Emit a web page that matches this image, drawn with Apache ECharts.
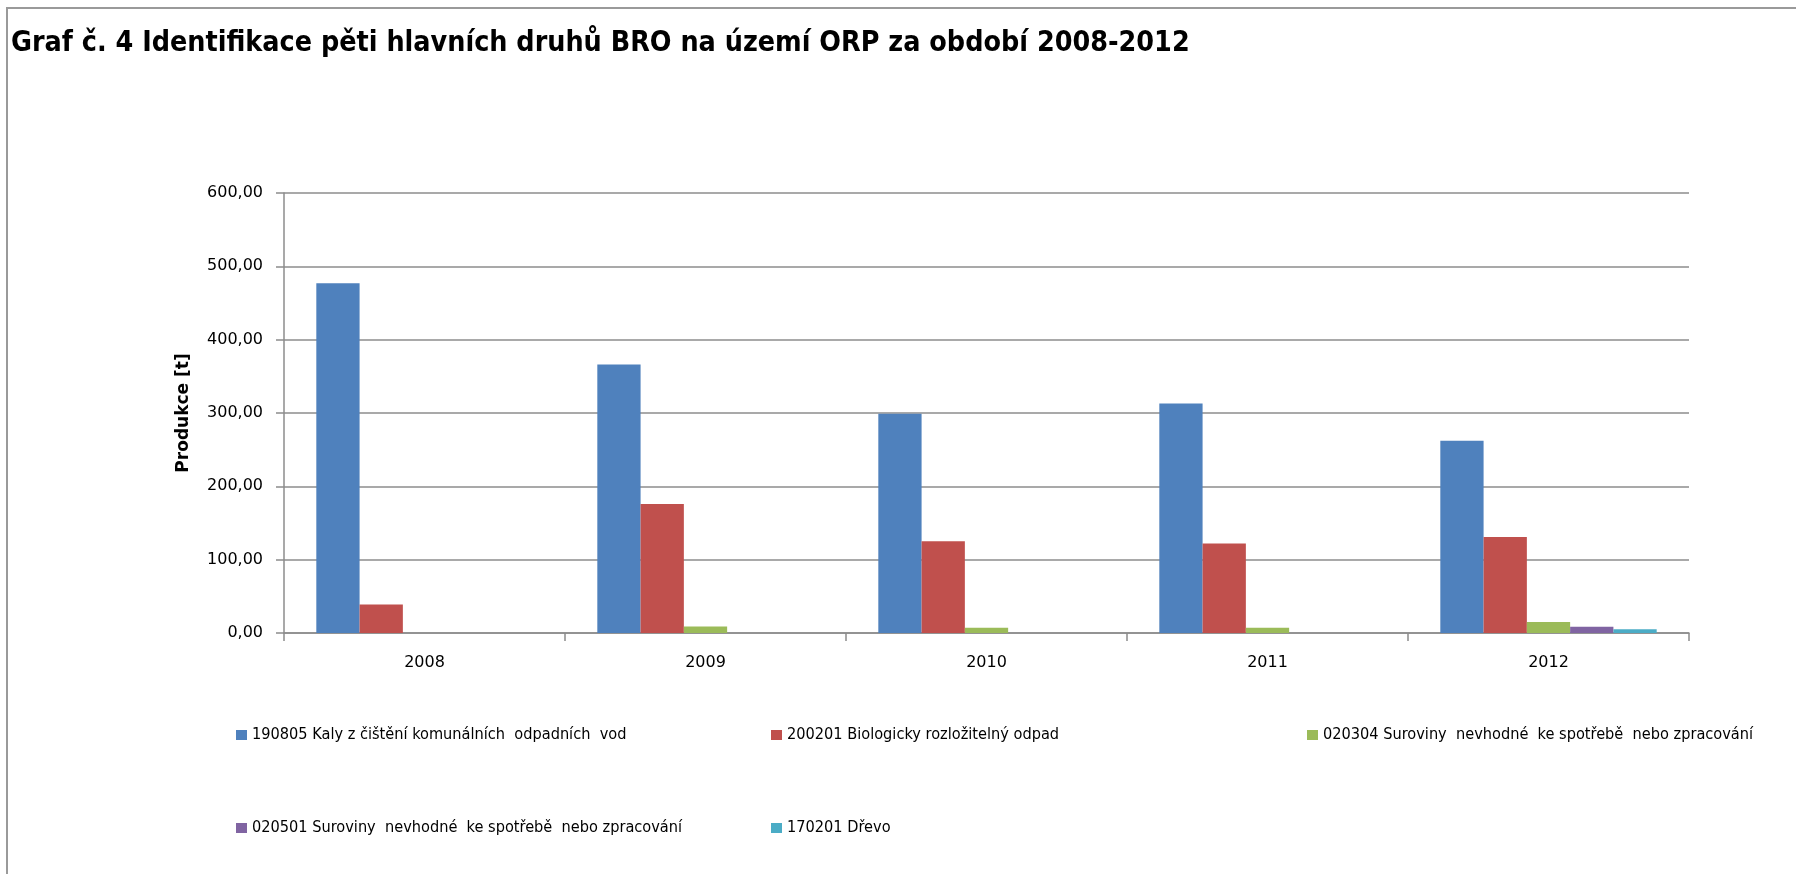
<!DOCTYPE html>
<html>
<head>
<meta charset="utf-8">
<script src="https://cdn.jsdelivr.net/npm/echarts@6/dist/echarts.min.js"></script>
<style>
html,body{margin:0;padding:0;background:#fff;}
#chart{width:1796px;height:874px;}
</style>
</head>
<body>
<div id="chart"></div>
<script>
const titleText = 'Graf č. 4 Identifikace pěti hlavních druhů BRO na území ORP za období 2008-2012';
const yAxisName = 'Produkce [t]';
const years = ['2008', '2009', '2010', '2011', '2012'];
const seriesNames = [
  '190805 Kaly z čištění komunálních  odpadních  vod',
  '200201 Biologicky rozložitelný odpad',
  '020304 Suroviny  nevhodné  ke spotřebě  nebo zpracování',
  '020501 Suroviny  nevhodné  ke spotřebě  nebo zpracování',
  '170201 Dřevo'
];
const kaly = [477, 366, 299, 313, 262];
const bio = [39, 176, 125, 122, 131];
const sur020304 = [0, 9, 7, 7, 15];
const sur020501 = [0, 0, 0, 0, 8.5];
const drevo = [0, 0, 0, 0, 5];
const colors = ['#4F81BD', '#C0504D', '#9BBB59', '#8064A2', '#4BACC6'];

const allData = [kaly, bio, sur020304, sur020501, drevo];

const legendPos = [
  {left: 236, top: 725},
  {left: 771, top: 725},
  {left: 1307, top: 725},
  {left: 236, top: 818},
  {left: 771, top: 818}
];

const legendFont = '"Liberation Sans Narrow", "DejaVu Sans Condensed", sans-serif';
const axisFont = '"DejaVu Sans", Verdana, sans-serif';

const chart = echarts.init(document.getElementById('chart'), null, {renderer: 'canvas'});
const option = {
  backgroundColor: '#ffffff',
  animation: false,
  title: {
    text: titleText,
    left: 11,
    top: 28,
    padding: 0,
    textStyle: {
      fontFamily: legendFont,
      fontWeight: 'bold',
      fontSize: 28.4,
      color: '#000',
      lineHeight: 32
    }
  },
  graphic: [{
    type: 'rect',
    silent: true,
    shape: {x: 7, y: 8, width: 2000, height: 2000},
    style: {fill: 'none', stroke: '#9a9a9a', lineWidth: 2}
  }],
  legend: seriesNames.map((n, i) => ({
    data: [n],
    left: legendPos[i].left,
    top: legendPos[i].top,
    padding: 0,
    orient: 'horizontal',
    itemWidth: 11,
    itemHeight: 10,
    icon: 'rect',
    selectedMode: false,
    textStyle: {fontFamily: legendFont, fontSize: 16.2, color: '#000', lineHeight: 20}
  })),
  grid: {left: 284, right: 107, top: 193, bottom: 241, containLabel: false},
  xAxis: {
    type: 'category',
    data: years,
    boundaryGap: true,
    axisLine: {show: true, lineStyle: {color: '#8c8c8c', width: 1.5}},
    axisTick: {show: true, length: 8, lineStyle: {color: '#8c8c8c', width: 1.5}},
    axisLabel: {fontFamily: axisFont, fontSize: 16, color: '#000', margin: 22}
  },
  yAxis: {
    type: 'value',
    min: 0,
    max: 600,
    interval: 100,
    name: yAxisName,
    nameLocation: 'middle',
    nameGap: 92,
    nameRotate: 90,
    nameTextStyle: {fontFamily: axisFont, fontWeight: 'bold', fontSize: 17, color: '#000'},
    axisLine: {show: true, lineStyle: {color: '#8c8c8c', width: 1.5}},
    axisTick: {show: true, length: 8, lineStyle: {color: '#8c8c8c', width: 1.5}},
    axisLabel: {
      fontFamily: axisFont, fontSize: 16, color: '#000', margin: 21,
      formatter: v => v.toFixed(2).replace('.', ',')
    },
    splitLine: {show: true, lineStyle: {color: '#8c8c8c', width: 1.5}}
  },
  series: seriesNames.map((n, i) => ({
    name: n,
    type: 'bar',
    data: allData[i],
    barGap: '0%',
    barCategoryGap: '23%',
    itemStyle: {color: colors[i]}
  }))
};
chart.setOption(option);
</script>
</body>
</html>
